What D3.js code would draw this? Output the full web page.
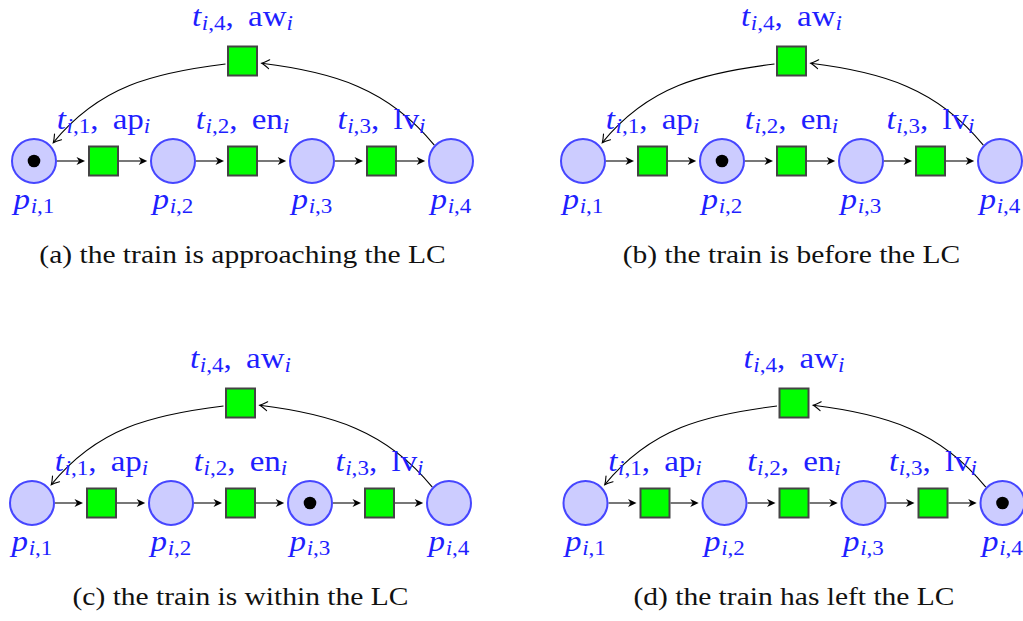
<!DOCTYPE html>
<html><head><meta charset="utf-8">
<script src="https://cdn.jsdelivr.net/npm/d3@7"></script>
<style>html,body{margin:0;padding:0;background:#fff;}svg{display:block;}</style>
</head><body>
<script>
// ---- data ----
const panelIds = ["a", "b", "c", "d"];
const captions = [
  "(a) the train is approaching the LC",
  "(b) the train is before the LC",
  "(c) the train is within the LC",
  "(d) the train has left the LC"
];
const tokenPlace = [0, 1, 2, 3];           // index of the marked place in each panel
const placeIndex = ["1", "2", "3", "4"];
const transIndex = ["1", "2", "3"];
const transNames = ["ap", "en", "lv"];
const backIndex = "4";
const backName = "aw";

// ---- layout ----
const W = 1023, H = 621;
const offsets = [[0, 0], [549, 0], [-2, 342], [551.5, 342]];
const R = 23, HALF = 15.5, TOK = 6.3;
const BLUE = "#1f1fff";
const FONT = "'Liberation Serif', 'Times New Roman', serif";
const MFS = 30, SFS = 21, MATH_SX = 1.1, CAP_FS = 25, CAP_SX = 1.18;

const svg = d3.select("body").append("svg").attr("width", W).attr("height", H);

const x = d3.scaleLinear().domain([0, 3]).range([34, 451]);
const yPos = {backLabel: 25.5, back: 61, label: 128.5, row: 161, placeLabel: 208.5, caption: 263};

function mathLabel(g, cx, by, main, sub, word, sub2) {
  const gg = g.append("g").attr("transform", `translate(${cx},${by}) scale(${MATH_SX},1)`);
  const t = gg.append("text").attr("x", 0).attr("y", 0).attr("text-anchor", "middle")
    .attr("fill", BLUE).attr("font-family", FONT).attr("font-size", MFS);
  t.append("tspan").attr("font-style", "italic").text(main);
  t.append("tspan").attr("font-size", SFS).attr("dy", 4.5).attr("dx", 0.5).attr("font-style", "italic").text("i");
  t.append("tspan").attr("font-size", SFS).text("," + sub);
  if (word) {
    t.append("tspan").attr("dy", -4.5).text(",");
    t.append("tspan").attr("dx", 13).text(word);
    t.append("tspan").attr("font-size", SFS).attr("dy", 4.5).attr("font-style", "italic").text(sub2);
  }
  return t;
}

function stealth(g, tx, ty, ang) {
  g.append("path").attr("d", "M0,0 L-8.5,-4 L-6,0 L-8.5,4 Z").attr("fill", "#000")
    .attr("transform", `translate(${tx},${ty}) rotate(${ang})`);
}

// open arrowhead marker for curved arcs
svg.append("defs").append("marker").attr("id", "open").attr("markerUnits", "userSpaceOnUse")
  .attr("viewBox", "-10 -6 12 12").attr("refX", 0).attr("refY", 0)
  .attr("markerWidth", 12).attr("markerHeight", 12).attr("orient", "auto")
  .append("path").attr("d", "M-7.5,-4.5 Q-2.5,-1 0,0 Q-2.5,1 -7.5,4.5")
  .attr("fill", "none").attr("stroke", "#000").attr("stroke-width", 1.1).attr("stroke-linecap", "round");

panelIds.forEach((id, pi) => {
  const g = svg.append("g").attr("transform", `translate(${offsets[pi][0]},${offsets[pi][1]})`);
  const ry = yPos.row;
  const t4x = (x(1) + x(2)) / 2, t4y = yPos.back;

  // curved back arcs
  const A = [t4x - HALF - 1.5, t4y + 3];
  const pa = 43.5 * Math.PI / 180;
  const B = [x(0) + 26.6 * Math.cos(pa), ry - 26.6 * Math.sin(pa)];
  const left = d3.path();
  left.moveTo(A[0], A[1]);
  left.bezierCurveTo(A[0] - 72, A[1] + 8.8, B[0] + 45.7, B[1] - 56.4, B[0], B[1]);
  g.append("path").attr("d", left.toString()).attr("fill", "none").attr("stroke", "#000")
    .attr("stroke-width", 1.1).attr("marker-end", "url(#open)");

  const A2 = [x(3) - R * Math.cos(pa), ry - R * Math.sin(pa)];
  const B2 = [t4x + HALF + 3.7, t4y + 2.3];
  const right = d3.path();
  right.moveTo(A2[0], A2[1]);
  right.bezierCurveTo(A2[0] - 45.7, A2[1] - 56.4, B2[0] + 72, B2[1] + 8.8, B2[0], B2[1]);
  g.append("path").attr("d", right.toString()).attr("fill", "none").attr("stroke", "#000")
    .attr("stroke-width", 1.1).attr("marker-end", "url(#open)");

  // horizontal arcs
  transIndex.forEach((ti, k) => {
    const tx = x(k + 0.5);
    const segs = [[x(k) + R, tx - HALF - 3], [tx + HALF, x(k + 1) - R - 2.8]];
    segs.forEach(([s, e]) => {
      g.append("line").attr("x1", s).attr("x2", e - 5).attr("y1", ry).attr("y2", ry)
        .attr("stroke", "#555").attr("stroke-width", 1.6);
      stealth(g, e, ry, 0);
    });
  });

  // places
  placeIndex.forEach((p, k) => {
    g.append("circle").attr("cx", x(k)).attr("cy", ry).attr("r", R - 1)
      .attr("fill", "#ccccff").attr("stroke", "#4646ff").attr("stroke-width", 2);
    if (tokenPlace[pi] === k)
      g.append("circle").attr("cx", x(k)).attr("cy", ry).attr("r", TOK).attr("fill", "#000");
    mathLabel(g, x(k), yPos.placeLabel, "p", p);
  });

  // transitions
  const tr = transIndex.map((ti, k) => ({cx: x(k + 0.5), cy: ry, i: ti, n: transNames[k]}));
  tr.push({cx: t4x, cy: t4y, i: backIndex, n: backName});
  tr.forEach(d => {
    g.append("rect").attr("x", d.cx - HALF + 1).attr("y", d.cy - HALF + 1)
      .attr("width", 2 * HALF - 2).attr("height", 2 * HALF - 2)
      .attr("fill", "#00ff00").attr("stroke", "#444").attr("stroke-width", 2);
  });
  tr.forEach((d, k) => {
    const by = k < 3 ? yPos.label : yPos.backLabel;
    mathLabel(g, d.cx, by, "t", d.i, d.n, "i");
  });

  // caption
  const cap = g.append("text").attr("x", t4x).attr("y", yPos.caption).attr("text-anchor", "middle")
    .attr("font-family", FONT).attr("font-size", CAP_FS).attr("fill", "#111")
    .text(captions[pi]);
  const len = cap.node().getComputedTextLength();
  cap.attr("textLength", len * CAP_SX).attr("lengthAdjust", "spacingAndGlyphs");
});
</script>
</body></html>
